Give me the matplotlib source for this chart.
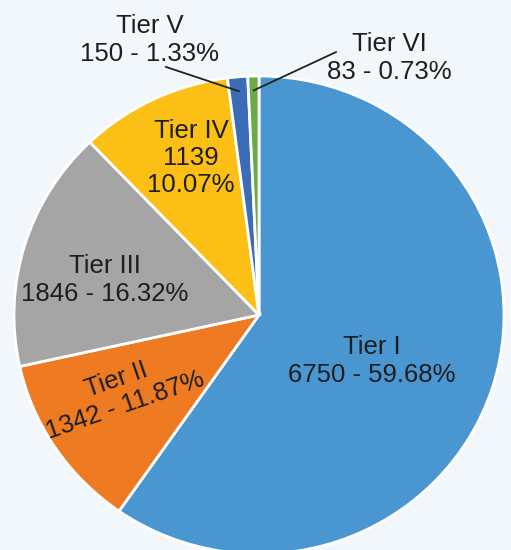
import numpy as np
import matplotlib
matplotlib.use("Agg")
import matplotlib.pyplot as plt

# data
tiers = ["Tier I", "Tier II", "Tier III", "Tier IV", "Tier V", "Tier VI"]
counts = [6750, 1342, 1846, 1139, 150, 83]
pcts = ["59.68%", "11.87%", "16.32%", "10.07%", "1.33%", "0.73%"]

colors = ["#4a96d0", "#ee7a22", "#a5a5a5", "#fcbf15", "#3b6cb7", "#6aab45"]
bg = "#f2f7fc"

plt.rcParams["font.family"] = ["Liberation Sans", "DejaVu Sans"]

fig = plt.figure(figsize=(5.11, 5.50), dpi=100, facecolor=bg)
ax = fig.add_axes([0, 0, 1, 1])
ax.set_facecolor(bg)

wedges, _ = ax.pie(counts, colors=colors, startangle=90, counterclock=False,
                   wedgeprops=dict(edgecolor="white", linewidth=2))

# the original pie is slightly wider than tall
ax.set_aspect("auto")
ax.set_xlim(-259 / 245, (511 - 259) / 245)
ax.set_ylim(-(550 - 315) / 239, 315 / 239)
ax.axis("off")

# label texts
labels = [
    f"{tiers[0]}\n{counts[0]} - {pcts[0]}",
    f"{tiers[1]}\n{counts[1]} - {pcts[1]}",
    f"{tiers[2]}\n{counts[2]} - {pcts[2]}",
    f"{tiers[3]}\n{counts[3]}\n{pcts[3]}",
    f"{tiers[4]}\n{counts[4]} - {pcts[4]}",
    f"{tiers[5]}\n{counts[5]} - {pcts[5]}",
]
label_pos = [(0.461, -0.192), (-0.563, -0.326), (-0.629, 0.146),
             (-0.278, 0.657), (-0.445, 1.151), (0.531, 1.075)]
label_rot = [0, 19, 0, 0, 0, 0]

for txt, (lx, ly), rot in zip(labels, label_pos, label_rot):
    ax.text(lx, ly, txt, ha="center", va="center", fontsize=18.5,
            color="#1e1e1e", rotation=rot, rotation_mode="anchor",
            linespacing=1.17)

# leader lines for the small slices
leader_start = {4: (-0.380, 1.038), 5: (0.314, 1.100)}
for i, (sx, sy) in leader_start.items():
    w = wedges[i]
    mid = np.deg2rad((w.theta1 + w.theta2) / 2)
    ex, ey = 0.94 * np.cos(mid), 0.94 * np.sin(mid)
    ax.plot([sx, ex], [sy, ey], color="#222222", linewidth=1.3)

fig.savefig("out.png", dpi=100, facecolor=bg)
